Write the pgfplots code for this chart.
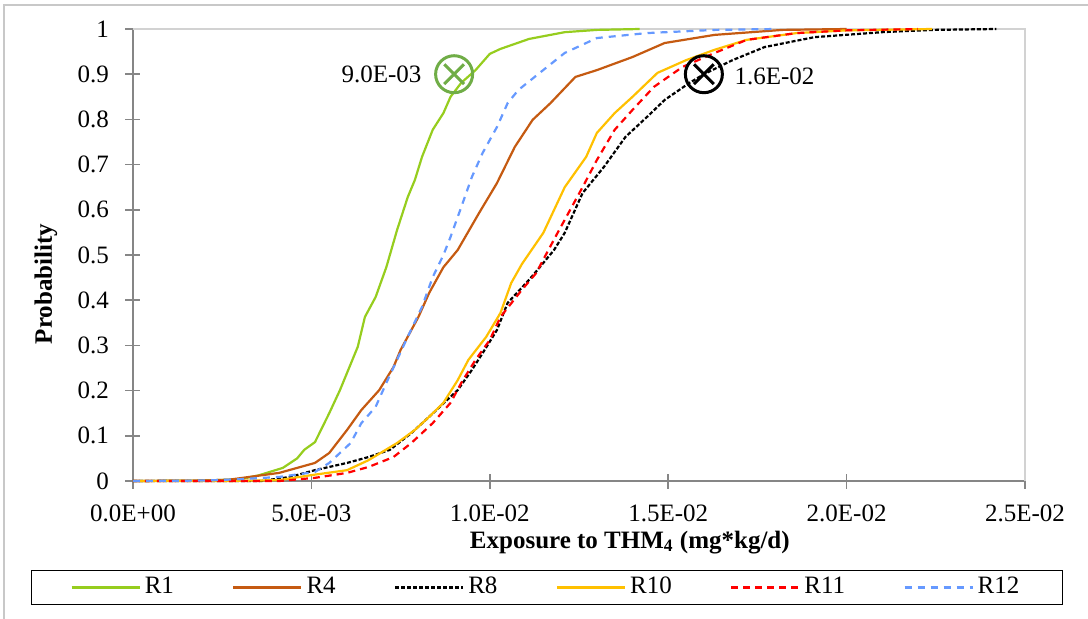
\documentclass[border=0pt]{standalone}
\usepackage{fontspec}
\setmainfont{Liberation Serif}
\usepackage{pgfplots}
\pgfplotsset{compat=1.18}

\definecolor{cRone}{RGB}{150,205,30}
\definecolor{cRfour}{RGB}{197,90,17}
\definecolor{cReight}{RGB}{0,0,0}
\definecolor{cRten}{RGB}{255,192,0}
\definecolor{cReleven}{RGB}{255,0,0}
\definecolor{cRtwelve}{RGB}{102,153,255}
\definecolor{markGreen}{RGB}{112,173,71}
\definecolor{axisGray}{RGB}{134,134,134}
\definecolor{frameGray}{RGB}{200,200,200}
\definecolor{plotBorder}{RGB}{210,210,210}

\begin{document}
\fontsize{12.5}{15}\selectfont
\begin{tikzpicture}
\useasboundingbox (-66.5pt,-68.5pt) rectangle (477.5pt,240.5pt);
% chart area frame
\draw[frameGray, line width=0.75pt] (-64.5pt,-90pt) -- (-64.5pt,238pt) -- (500pt,238pt);
\begin{axis}[
  at={(0,0)}, anchor=south west,
  scale only axis, width=446pt, height=226pt,
  xmin=0, xmax=0.025, ymin=0, ymax=1,
  clip=false,
  axis x line*=bottom, axis y line*=left,
  axis line style={draw=axisGray, line width=0.75pt},
  tick style={draw=axisGray, line width=0.75pt},
  tick align=center, major tick length=7.5pt,
  xtick={0,0.005,0.01,0.015,0.02,0.025},
  xticklabels={0.0E+00,5.0E-03,1.0E-02,1.5E-02,2.0E-02,2.5E-02},
  ytick={0,0.1,0.2,0.3,0.4,0.5,0.6,0.7,0.8,0.9,1},
  yticklabels={0,0.1,0.2,0.3,0.4,0.5,0.6,0.7,0.8,0.9,1},
  scaled x ticks=false,
  xticklabel style={yshift=-4pt},
  yticklabel style={xshift=-4pt},
  xlabel={\bfseries Exposure to THM\textsubscript{4} (mg*kg/d)},
  ylabel={\bfseries Probability},
  xlabel style={at={(axis description cs:0.557,0)}, anchor=base, yshift=-33.5pt},
  ylabel style={at={(axis description cs:-0.0975,0.436)}, anchor=center},
  legend columns=6,
  legend cell align=left,
  legend image code/.code={\draw[#1] (0pt,0pt) -- (34pt,0pt);},
  legend style={at={(axis description cs:0.4641,-0.2356)}, anchor=center,
    draw=black, line width=0.75pt, inner xsep=19.5pt, inner ysep=1.5pt,
    /tikz/every even column/.append style={column sep=27.2pt}},
]
% plot area border (top and right)
\draw[plotBorder, line width=0.75pt] (rel axis cs:0,1) -- (rel axis cs:1,1) -- (rel axis cs:1,0);

\addplot[cRone, line width=1.1pt] coordinates {
(0,0) (0.0020,0.001) (0.0030,0.004) (0.0035,0.012) (0.0042,0.029) (0.0046,0.050)
(0.0048,0.069) (0.0051,0.086) (0.0055,0.150) (0.0058,0.201) (0.0063,0.297)
(0.0065,0.363) (0.0068,0.407) (0.0071,0.473) (0.0074,0.555) (0.0077,0.628)
(0.0079,0.666) (0.0081,0.717) (0.0084,0.777) (0.0087,0.814) (0.0089,0.850)
(0.0092,0.881) (0.0096,0.909) (0.0100,0.945) (0.0103,0.956) (0.0111,0.978)
(0.0121,0.993) (0.0130,0.998) (0.0142,1.0)};

\addplot[cRfour, line width=1.1pt] coordinates {
(0,0) (0.0020,0.001) (0.0027,0.003) (0.0041,0.018) (0.0046,0.029) (0.0051,0.040)
(0.0055,0.062) (0.0060,0.113) (0.0064,0.157) (0.0069,0.201) (0.0073,0.252)
(0.0075,0.290) (0.0080,0.363) (0.0083,0.416) (0.0087,0.473) (0.0091,0.511)
(0.0097,0.593) (0.0102,0.659) (0.0107,0.739) (0.0112,0.799) (0.0117,0.836)
(0.0124,0.894) (0.0130,0.909) (0.0140,0.938) (0.0149,0.969) (0.0163,0.987)
(0.0182,0.998) (0.0200,1.0)};

\addplot[cReight, line width=1.1pt, dash pattern=on 2pt off 1pt] coordinates {
(0,0) (0.0036,0.000) (0.0044,0.009) (0.0051,0.024) (0.0060,0.040) (0.0066,0.053)
(0.0072,0.069) (0.0078,0.106) (0.0083,0.142) (0.0088,0.179) (0.0091,0.201)
(0.0095,0.246) (0.0098,0.283) (0.0102,0.334) (0.0105,0.394) (0.0111,0.445)
(0.0114,0.473) (0.0118,0.511) (0.0121,0.549) (0.0126,0.637) (0.0132,0.695)
(0.0138,0.761) (0.0144,0.805) (0.0149,0.843) (0.0156,0.881) (0.0160,0.900)
(0.0168,0.931) (0.0177,0.960) (0.0191,0.982) (0.0210,0.993) (0.0224,0.998)
(0.0242,1.0)};

\addplot[cRten, line width=1.1pt] coordinates {
(0,0) (0.0027,0.000) (0.0041,0.002) (0.0050,0.013) (0.0060,0.024) (0.0066,0.046)
(0.0074,0.084) (0.0079,0.113) (0.0083,0.142) (0.0087,0.173) (0.0091,0.223)
(0.0094,0.268) (0.0099,0.319) (0.0103,0.372) (0.0106,0.438) (0.0109,0.480)
(0.0115,0.549) (0.0121,0.650) (0.0127,0.717) (0.0130,0.770) (0.0135,0.814)
(0.0140,0.850) (0.0147,0.903) (0.0155,0.931) (0.0163,0.954) (0.0172,0.976)
(0.0186,0.991) (0.0200,0.997) (0.0224,1.0)};

\addplot[cReleven, line width=1.1pt, dash pattern=on 3.5pt off 2.5pt] coordinates {
(0,0) (0.0041,0.000) (0.0051,0.007) (0.0060,0.018) (0.0066,0.031) (0.0073,0.053)
(0.0078,0.084) (0.0084,0.128) (0.0089,0.173) (0.0092,0.217) (0.0096,0.268)
(0.0100,0.312) (0.0103,0.363) (0.0109,0.423) (0.0113,0.460) (0.0115,0.490)
(0.0119,0.549) (0.0126,0.650) (0.0130,0.710) (0.0135,0.777) (0.0140,0.821)
(0.0146,0.872) (0.0154,0.916) (0.0163,0.947) (0.0172,0.976) (0.0186,0.991)
(0.0200,0.997) (0.0220,1.0)};

\addplot[cRtwelve, line width=1.1pt, dash pattern=on 3.5pt off 3pt] coordinates {
(0,0) (0.0020,0.001) (0.0030,0.004) (0.0041,0.009) (0.0051,0.020) (0.0055,0.040)
(0.0061,0.084) (0.0064,0.128) (0.0068,0.164) (0.0071,0.217) (0.0074,0.268)
(0.0077,0.319) (0.0081,0.385) (0.0084,0.451) (0.0087,0.500) (0.0089,0.540)
(0.0092,0.606) (0.0095,0.673) (0.0098,0.726) (0.0102,0.783) (0.0105,0.836)
(0.0108,0.865) (0.0114,0.903) (0.0121,0.947) (0.0130,0.980) (0.0144,0.991)
(0.0163,0.998) (0.0180,1.0)};

% highlighted 90th percentiles
\addplot[forget plot, only marks, mark=o, mark size=9.25pt,
  mark options={draw=markGreen, line width=1.5pt}] coordinates {(0.009,0.9)};
\addplot[forget plot, only marks, mark=x, mark size=7pt,
  mark options={draw=markGreen, line width=1.5pt}] coordinates {(0.009,0.9)};
\addplot[forget plot, only marks, mark=o, mark size=9.25pt,
  mark options={draw=black, line width=1.5pt}] coordinates {(0.016,0.9)};
\addplot[forget plot, only marks, mark=x, mark size=7pt,
  mark options={draw=black, line width=1.5pt}] coordinates {(0.016,0.9)};
\node[anchor=east, xshift=-12pt] at (axis cs:0.009,0.9) {9.0E-03};
\node[anchor=west, xshift=11pt, yshift=-1pt] at (axis cs:0.016,0.9) {1.6E-02};

\legend{R1,R4,R8,R10,R11,R12}
\end{axis}
\end{tikzpicture}
\end{document}
